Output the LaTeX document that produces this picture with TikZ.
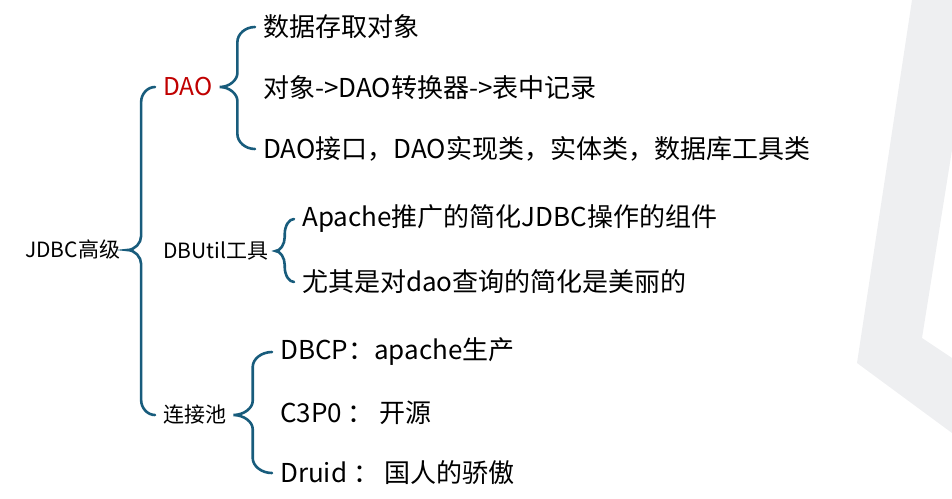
\documentclass[tikz,border=0pt]{standalone}
\usepackage{fontspec}
\setmainfont{Noto Sans CJK SC}
\usetikzlibrary{calc}
\definecolor{bracecol}{RGB}{24,92,124}
\definecolor{daored}{RGB}{192,0,0}
\definecolor{shadegray}{RGB}{238,239,241}
% curly brace from a parent node to its first and last child
\newcommand\mmbrace[3]{%
  \draw[mmline] let \p1=($(#1.east)+(7,0)$), \p2=($(#2.west)+(-8,0)$),
    \p3=($(#3.west)+(-8,0)$), \n1={(\x1+\x2)/2}, \n2={(\x2-\x1)/2*0.55} in
    (\p2) .. controls (\x2-\n2,\y2) and (\n1,\y2-7pt) .. (\n1,\y2-15pt)
    -- (\n1,\y1+14pt) .. controls (\n1,\y1+7pt) and (\x1+\n2,\y1) .. (\p1)
    .. controls (\x1+\n2,\y1) and (\n1,\y1-7pt) .. (\n1,\y1-14pt)
    -- (\n1,\y3+15pt) .. controls (\n1,\y3+7pt) and (\x3-\n2,\y3) .. (\p3);}
\begin{document}
\begin{tikzpicture}[x=1pt,y=-1pt,
  mmline/.style={draw=bracecol,line width=2.6pt,line cap=round},
  topic/.style={anchor=west,inner sep=0pt,font=\fontsize{21}{25}\selectfont},
  leaf/.style={anchor=west,inner sep=0pt,font=\fontsize{26}{31}\selectfont}]
\useasboundingbox (0,0) rectangle (952,498);
\fill[shadegray] (912,0)--(952,0)--(952,150)--(922,338)--(952,358)--(952,433)--(857,363)--cycle;

\node[topic] (root) at (25,250) {JDBC高级};
\node[topic,text=daored,font=\fontsize{24.5}{29}\selectfont] (dao) at (163,87) {DAO};
\node[topic] (dbutil) at (163,251) {DBUtil工具};
\node[topic] (pool) at (163,415) {连接池};

\node[leaf] (dao1) at (263,27) {数据存取对象};
\node[leaf] (dao2) at (263,88) {对象->DAO转换器->表中记录};
\node[leaf] (dao3) at (263,149) {DAO接口，DAO实现类，实体类，数据库工具类};
\node[leaf] (dbu1) at (302,219) {Apache推广的简化JDBC操作的组件};
\node[leaf] (dbu2) at (302,282) {尤其是对dao查询的简化是美丽的};
\node[leaf] (pool1) at (280,352) {DBCP：apache生产};
\node[leaf] (pool2) at (280,413) {C3P0 ： 开源};
\node[leaf] (pool3) at (280,473) {Druid ： 国人的骄傲};

\mmbrace{root}{dao}{pool}
\mmbrace{dao}{dao1}{dao3}
\mmbrace{dbutil}{dbu1}{dbu2}
\mmbrace{pool}{pool1}{pool3}
\end{tikzpicture}
\end{document}
